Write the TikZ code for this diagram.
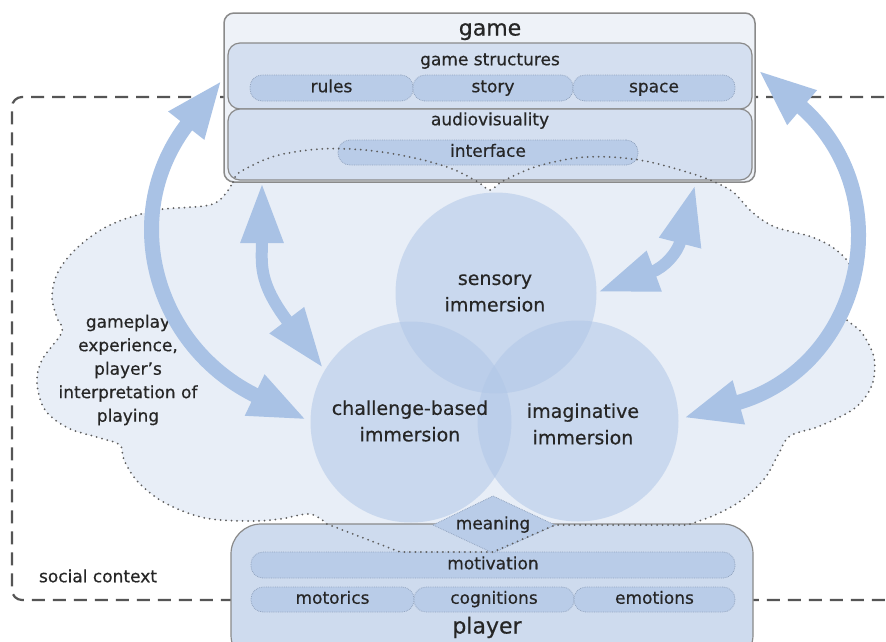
\documentclass[tikz,border=0pt]{standalone}
\usepackage{fontspec}
\setmainfont{DejaVu Sans}[FakeBold=0.5]
\usetikzlibrary{arrows.meta}
\definecolor{cloudfill}{HTML}{E8EEF7}
\definecolor{gamefill}{HTML}{EEF2F8}
\definecolor{boxfill}{HTML}{D4DFF0}
\definecolor{playerfill}{HTML}{CEDBEE}
\definecolor{pillfill}{HTML}{B9CCE8}
\definecolor{pilledge}{HTML}{93A5C0}
\definecolor{circfill}{HTML}{B1C7E7}
\definecolor{arrowcol}{HTML}{A9C2E5}
\definecolor{edgegray}{HTML}{8A8A8A}
\definecolor{dotcol}{HTML}{5E5E5E}
\definecolor{txtcol}{HTML}{262626}
\definecolor{dashcol}{HTML}{555555}
\newcommand\cloudoutline{plot[smooth, tension=0.55] coordinates {(233,182) (240,172) (275,156) (320,149) (365,150) (410,157) (450,168) (478,182) (490,190) (503,181) (535,167) (575,158) (610,157) (645,161) (680,170) (710,180) (733,192) (752,212) (775,227) (812,237) (835,249) (850,265) (852,283) (843,305) (845,318) (862,333) (874,358) (872,385) (855,408) (820,426) (790,436) (778,455) (765,478) (742,500) (715,515) (687,525)} -- (555,525) -- (493,552) -- (400,552) -- plot[smooth, tension=0.55] coordinates {(327,524) (310,514) (280,519) (250,521) (205,518) (165,503) (138,482) (124,460) (120,445) (100,438) (68,428) (45,410) (37,383) (42,360) (62,332) (57,318) (52,297) (58,272) (78,247) (110,225) (157,210) (213,204) (233,182)} -- cycle}
\begin{document}
\begin{tikzpicture}[x=1pt,y=-1pt,
  lbl/.style={text=txtcol, inner sep=0pt, font=\fontsize{17}{20}\selectfont, text height=12.5pt, text depth=4pt},
  biglbl/.style={text=txtcol, inner sep=0pt, font=\fontsize{22}{26}\selectfont, text height=16pt, text depth=5pt},
  circlbl/.style={text=txtcol, inner sep=0pt, align=center, font=\fontsize{19}{26.5}\selectfont},
  pill/.style={lbl, fill=pillfill, draw=pilledge, densely dotted, line width=0.8pt, rounded corners=12pt, minimum height=26pt},
  gbox/.style={fill=boxfill, draw=edgegray, line width=1.2pt, rounded corners=12pt},
  circ/.style={circle, fill=circfill, fill opacity=0.55, minimum size=201pt, inner sep=0pt},
  bigarrow/.style={draw=arrowcol, line width=15pt, {Triangle[width=41pt,length=58pt]}-{Triangle[width=41pt,length=58pt]}},
  smallarrow/.style={draw=arrowcol, line width=12pt, {Triangle[width=40pt,length=60pt]}-{Triangle[width=40pt,length=60pt]}}
]
\useasboundingbox (0,0) rectangle (886,641);
\fill[white] (0,0) rectangle (886,641);

% social context
\draw[dashcol, line width=2.2pt, dash pattern=on 13pt off 8pt, rounded corners=10pt]
  (905,97) -- (12,97) -- (12,600) -- (905,600);
\node[lbl, anchor=center] (social) at (98,578) {social context};

% cloud fill
\fill[cloudfill] \cloudoutline;

% game box
\node[fill=gamefill, draw=edgegray, line width=1.5pt, rounded corners=10pt, minimum width=531pt, minimum height=169pt, inner sep=0pt] (game) at (489.5,97.5) {};
\node[gbox, minimum width=524pt, minimum height=66pt, inner sep=0pt] (gs) at (490,76) {};
\node[gbox, minimum width=524pt, minimum height=71pt, inner sep=0pt] (av) at (490,144.5) {};
\node[biglbl] (gamelbl) at (490,30) {game};
\node[lbl] (gslbl) at (490,61) {game structures};
\node[pill, minimum width=163pt] (rules) at (331.5,88) {rules};
\node[pill, minimum width=160pt] (story) at (493,88) {story};
\node[pill, minimum width=162pt] (space) at (654,88) {space};
\node[lbl] (avlbl) at (490,121) {audiovisuality};
\node[pill, minimum width=300pt, minimum height=25pt] (interface) at (488,152.5) {interface};

% player box
\node[fill=playerfill, draw=edgegray, line width=1.2pt, rounded corners=30pt, minimum width=522pt, minimum height=141pt, inner sep=0pt] (player) at (492,594.5) {};
\node[pill, minimum width=484pt] (motivation) at (493,565) {motivation};
\node[pill, minimum width=163pt, minimum height=25pt] (motorics) at (332.5,599.5) {motorics};
\node[pill, minimum width=160pt, minimum height=25pt] (cognitions) at (494,599.5) {cognitions};
\node[pill, minimum width=161pt, minimum height=25pt] (emotions) at (654.5,599.5) {emotions};
\node[biglbl] (playerlbl) at (487,628) {player};

% circles
\node[circ] (sens) at (496,293) {};
\node[circ] (chal) at (411,422) {};
\node[circ] (imag) at (578,421) {};
\node[circlbl] (senslbl) at (495,293) {sensory\\immersion};
\node[circlbl] (challbl) at (410,421) {challenge-based\\immersion};
\node[circlbl] (imaglbl) at (583,424) {imaginative\\immersion};

% meaning diamond
\coordinate (dl) at (433,525);
\coordinate (dt) at (493,496);
\coordinate (dr) at (555,525);
\coordinate (db) at (493,553);
\draw[fill=pillfill, draw=pilledge, densely dotted, line width=0.8pt] (dl) -- (dt) -- (dr) -- (db) -- cycle;
\node[lbl] (meaning) at (493,525) {meaning};

% cloud outline
\draw[dotcol, line width=2pt, line cap=round, dash pattern=on 0pt off 5.5pt] \cloudoutline;
\node[text=txtcol, inner sep=0pt, align=center, font=\fontsize{17}{23.5}\selectfont] (gameplay) at (128,370) {gameplay\\experience,\\player’s\\interpretation of\\playing};

% arrows
\coordinate (gL) at (222,80);
\coordinate (cL) at (307,420);
\coordinate (gR) at (758,70);
\coordinate (cR) at (683,418);
\coordinate (gLs) at (262,183);
\coordinate (cLs) at (323,368);
\coordinate (gRs) at (695,185);
\coordinate (sR) at (598,292);
\draw[bigarrow] (cL) .. controls (154,347) and (117,214) .. (gL);
\draw[bigarrow] (cR) .. controls (865,367) and (902,193) .. (gR);
\draw[smallarrow] (gLs) .. controls (262,263) and (257,281) .. (cLs);
\draw[smallarrow] (sR) .. controls (664,267.5) and (677.5,253) .. (gRs);
\end{tikzpicture}
\end{document}
